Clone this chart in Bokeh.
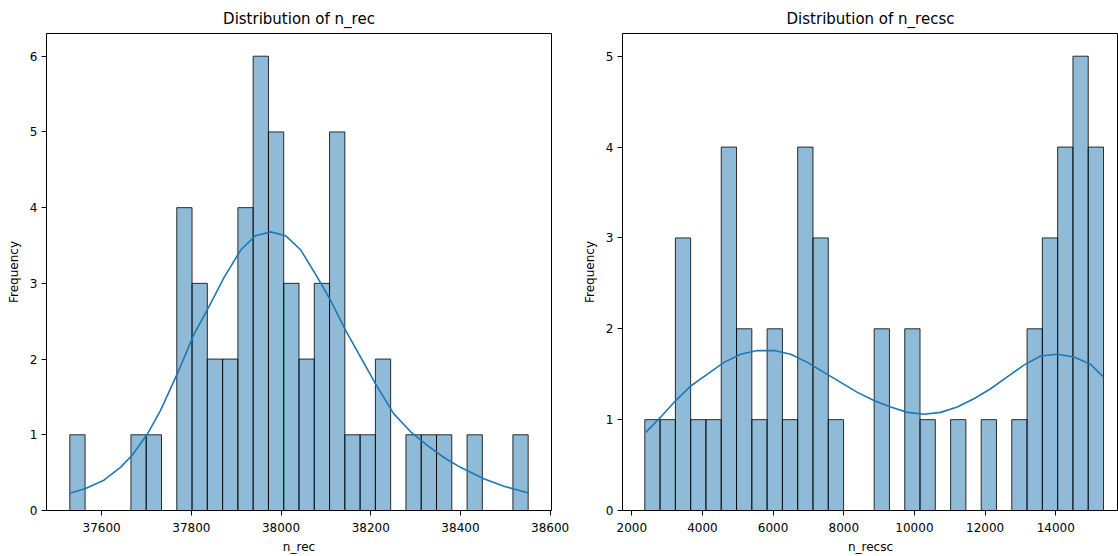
import numpy as np
from bokeh.plotting import figure
from bokeh.layouts import row
from bokeh.models import FixedTicker, ColumnDataSource
from bokeh.embed import file_html
from bokeh.resources import INLINE

# ---- data ----
rec_counts = [1, 0, 0, 0, 1, 1, 0, 4, 3, 2, 2, 4, 6, 5, 3, 2, 3, 5, 1, 1, 2, 0, 1, 1, 1, 0, 1, 0, 0, 1]
rec_min, rec_max = 37529, 38551
rec_kde_x = [37531, 37564, 37605, 37642, 37668, 37702, 37731, 37769, 37806, 37839, 37873, 37910,
             37943, 37977, 38010, 38044, 38081, 38110, 38144, 38177, 38211, 38251, 38289, 38326,
             38363, 38400, 38452, 38497, 38552]
rec_kde_y = [0.23, 0.29, 0.40, 0.57, 0.73, 1.01, 1.32, 1.81, 2.33, 2.69, 3.08, 3.44,
             3.63, 3.68, 3.63, 3.44, 3.08, 2.78, 2.38, 2.03, 1.67, 1.28, 1.04, 0.86,
             0.70, 0.57, 0.42, 0.32, 0.23]
rec_xticks = [37600, 37800, 38000, 38200, 38400, 38600]
rec_yticks = [0, 1, 2, 3, 4, 5, 6]

recsc_counts = [1, 1, 3, 1, 1, 4, 2, 1, 2, 1, 4, 3, 1, 0, 0, 2, 0, 2, 1, 0, 1, 0, 1, 0, 1, 2, 3, 4, 5, 4]
recsc_min, recsc_max = 2368, 15352
recsc_kde_x = [2396, 2820, 3245, 3669, 4140, 4612, 5083, 5556, 6026, 6498, 6970, 7440, 7912,
               8385, 8855, 9327, 9799, 10270, 10741, 11213, 11684, 12156, 12627, 13098, 13570,
               14042, 14513, 14984, 15344]
recsc_kde_y = [0.86, 1.03, 1.21, 1.37, 1.50, 1.63, 1.72, 1.76, 1.76, 1.72, 1.63, 1.52, 1.41,
               1.30, 1.21, 1.14, 1.08, 1.06, 1.08, 1.14, 1.23, 1.34, 1.47, 1.60, 1.70,
               1.72, 1.69, 1.61, 1.47]
recsc_xticks = [2000, 4000, 6000, 8000, 10000, 12000, 14000]
recsc_yticks = [0, 1, 2, 3, 4, 5]

FONT = "DejaVu Sans"
BLUE = "#1f77b4"


def hist_plot(title, xlabel, counts, vmin, vmax, kx, ky, xticks, yticks,
              x_range, y_range, width, mb_left, mb_right):
    p = figure(width=width, height=556, x_range=x_range, y_range=y_range,
               output_backend="svg", toolbar_location=None, tools="",
               min_border_left=mb_left, min_border_right=mb_right,
               min_border_top=33, min_border_bottom=45)
    p.title.text = title
    p.title.align = "center"
    p.title.text_font = FONT
    p.title.text_font_size = "15px"
    p.title.text_font_style = "normal"
    p.title.text_color = "black"
    p.title.standoff = 11

    n = len(counts)
    edges = np.linspace(vmin, vmax, n + 1)
    c = np.array(counts, dtype=float)
    keep = c > 0
    src = ColumnDataSource(dict(left=edges[:-1][keep], right=edges[1:][keep], top=c[keep]))
    p.quad(left="left", right="right", bottom=0, top="top", source=src,
           fill_color=BLUE, fill_alpha=0.5, line_color="black", line_alpha=0.8, line_width=1)
    p.line(kx, ky, line_color=BLUE, line_width=1.6, line_join="round")

    p.xgrid.visible = False
    p.ygrid.visible = False
    p.outline_line_color = "black"
    p.outline_line_width = 1
    p.outline_line_alpha = 1

    for ax in (p.xaxis[0], p.yaxis[0]):
        ax.axis_line_color = "black"
        ax.major_tick_line_color = "black"
        ax.major_tick_out = 5
        ax.major_tick_in = 0
        ax.minor_tick_line_color = None
        ax.major_label_text_font = FONT
        ax.major_label_text_font_size = "12px"
        ax.major_label_text_color = "black"
        ax.axis_label_text_font = FONT
        ax.axis_label_text_font_size = "12px"
        ax.axis_label_text_font_style = "normal"
        ax.axis_label_text_color = "black"
    p.xaxis[0].major_label_standoff = 7
    p.xaxis[0].axis_label_standoff = 5
    p.yaxis[0].major_label_standoff = 4
    p.yaxis[0].axis_label_standoff = 6

    p.xaxis[0].ticker = FixedTicker(ticks=xticks)
    p.yaxis[0].ticker = FixedTicker(ticks=yticks)
    p.xaxis[0].axis_label = xlabel
    p.yaxis[0].axis_label = "Frequency"
    return p


p1 = hist_plot("Distribution of n_rec", "n_rec", rec_counts, rec_min, rec_max,
               rec_kde_x, rec_kde_y, rec_xticks, rec_yticks,
               (37477, 38603), (0, 6.3), 575, 46, 24)
p2 = hist_plot("Distribution of n_recsc", "n_recsc", recsc_counts, recsc_min, recsc_max,
               recsc_kde_x, recsc_kde_y, recsc_xticks, recsc_yticks,
               (1737, 15776), (0, 5.25), 543, 47, 0)

layout = row(p1, p2)
open("out.html", "w").write(file_html(layout, INLINE))
